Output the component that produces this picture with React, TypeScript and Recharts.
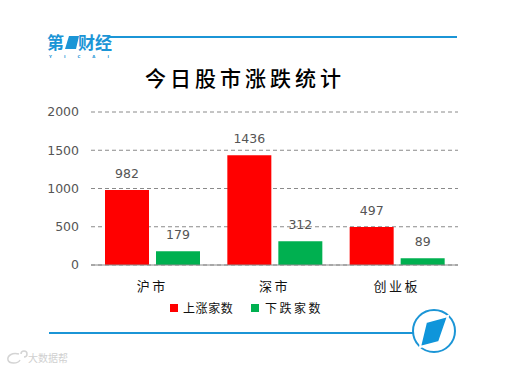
import React from "react";
import { BarChart, Bar, XAxis, YAxis, CartesianGrid, LabelList, Legend } from "recharts";

const categories = ["沪市", "深市", "创业板"];
const upCounts = [982, 1436, 497];
const downCounts = [179, 312, 89];
const yTicks = [0, 500, 1000, 1500, 2000];
const rows = categories.map((name, i) => ({ name, up: upCounts[i], down: downCounts[i] }));

const CJK = '"Noto Sans CJK SC", sans-serif';
const NUM = '"DejaVu Sans", sans-serif';
const BLUE = "#1b95d6";

const LegendBox = () => (
  <div style={{ position: "relative", width: 514, height: 20, fontFamily: CJK, fontSize: 12, color: "#111" }}>
    <span style={{ position: "absolute", left: 170, top: 5, width: 8, height: 8, background: "#ff0000" }} />
    <span style={{ position: "absolute", left: 183, top: 0, lineHeight: "18px", letterSpacing: 0.6 }}>上涨家数</span>
    <span style={{ position: "absolute", left: 251, top: 5, width: 8, height: 8, background: "#00b050" }} />
    <span style={{ position: "absolute", left: 265, top: 0, lineHeight: "18px", letterSpacing: 2.5 }}>下跌家数</span>
  </div>
);

export default function App() {
  return (
    <div style={{ position: "absolute", left: 0, top: 0, width: 514, height: 369, background: "#fff", overflow: "hidden" }}>
      <BarChart
        width={514}
        height={369}
        data={rows}
        margin={{ top: 112, right: 56, bottom: 54, left: 51 }}
        barSize={44}
        barGap={7}
      >
        <CartesianGrid horizontal vertical={false} stroke="#8a8a8a" strokeDasharray="4 3" />
        <XAxis
          dataKey="name"
          axisLine={{ stroke: "#8a8a8a" }}
          tickLine={false}
          tick={{ fontFamily: CJK, fontSize: 13, fill: "#111", letterSpacing: 2.5 }}
          tickMargin={11}
          height={30}
        />
        <YAxis
          domain={[0, 2000]}
          ticks={yTicks}
          width={40}
          axisLine={false}
          tickLine={false}
          tick={{ fontFamily: NUM, fontSize: 12.5, fill: "#555", dx: -4 }}
          interval={0}
        />
        <Legend content={<LegendBox />} wrapperStyle={{ position: "absolute", left: 0, top: 299, width: 514, height: 20 }} />
        <Bar dataKey="up" name="上涨家数" fill="#ff0000" isAnimationActive={false}>
          <LabelList dataKey="up" position="top" offset={12} style={{ fontFamily: NUM, fontSize: 12.5, fill: "#555" }} />
        </Bar>
        <Bar dataKey="down" name="下跌家数" fill="#00b050" isAnimationActive={false}>
          <LabelList dataKey="down" position="top" offset={12} style={{ fontFamily: NUM, fontSize: 12.5, fill: "#555" }} />
        </Bar>
      </BarChart>
      <svg width={514} height={369} style={{ position: "absolute", left: 0, top: 0, pointerEvents: "none" }}>
        <line x1={108} y1={37} x2={457} y2={37} stroke={BLUE} strokeWidth={2} />
        <text x={47} y={49} fontFamily={CJK} fontSize={17} fontWeight={700} fill={BLUE}>第</text>
        <polygon points="69,36 79,36 76,49 65,49" fill={BLUE} />
        <text x={78} y={49} fontFamily={CJK} fontSize={17} fontWeight={700} fill={BLUE}>财经</text>
        <text x={49} y={58} fontFamily={NUM} fontSize={4} fontWeight={700} fill={BLUE} letterSpacing={12}>YICAI</text>
        <text x={245} y={86} textAnchor="middle" fontFamily={CJK} fontSize={21} fontWeight={500} fill="#000" letterSpacing={4}>今日股市涨跌统计</text>
        <line x1={49} y1={333} x2={413} y2={333} stroke={BLUE} strokeWidth={2} />
        <circle cx={434} cy={331} r={21} fill="#fff" stroke={BLUE} strokeWidth={2} />
        <polygon points="426,322 448,316 439,342 420,347" fill="#0f95da" stroke="#fff" strokeWidth={2} />
        <path d="M19,354 C12,352 7,356 8,360 C9,364 18,364 20,360 M21,354 a3,3 0 1 1 3,3" fill="none" stroke="#d4d4d4" strokeWidth={1.5} />
        <text x={28} y={362} fontFamily={CJK} fontSize={10} fill="#d0d0d0">大数据帮</text>
      </svg>
    </div>
  );
}
